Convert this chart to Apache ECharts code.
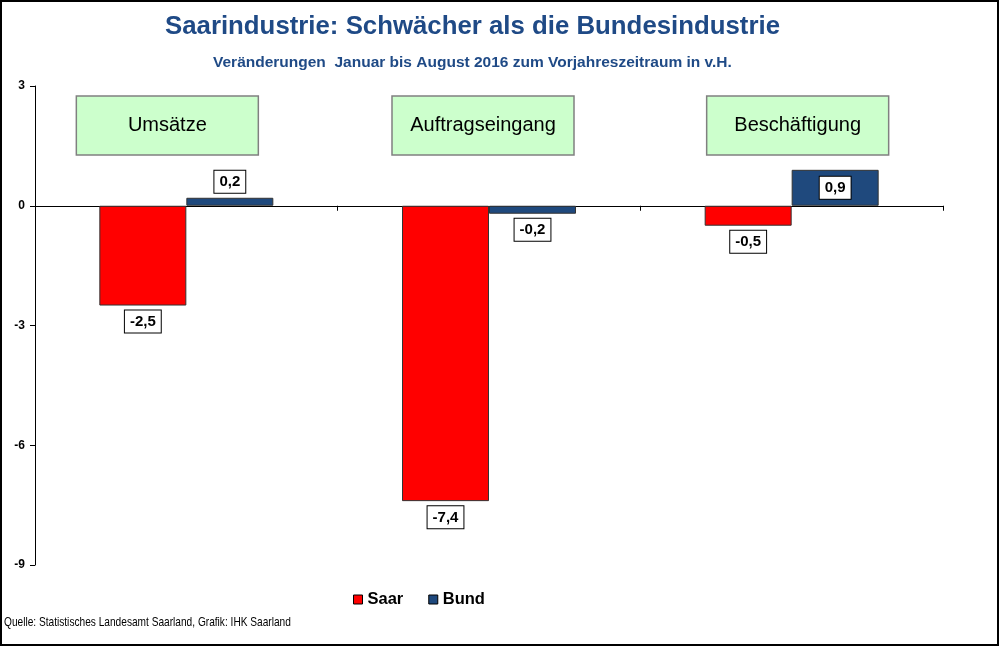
<!DOCTYPE html>
<html>
<head>
<meta charset="utf-8">
<script src="https://cdn.jsdelivr.net/npm/echarts@6/dist/echarts.min.js"></script>
<style>
  html, body { margin: 0; padding: 0; background: #fff; }
  #chart { width: 1000px; height: 647px; }
</style>
</head>
<body>
<div id="chart"></div>
<script>
"use strict";

var categories = ['Umsätze', 'Auftragseingang', 'Beschäftigung'];
var saarValues = [-2.5, -7.4, -0.5];
var bundValues = [0.2, -0.2, 0.9];
var seriesNames = ['Saar', 'Bund'];

// the green category boxes sit a little off the category centre
var boxShift = [-19, -6, 6];

var FONT = '"Liberation Sans", Arial, sans-serif';
var chart = echarts.init(document.getElementById('chart'));

function fmt(p) {
  return p.value.toFixed(1).replace('.', ',');
}

var labelBox = {
  show: true,
  formatter: fmt,
  fontFamily: FONT,
  fontWeight: 'bold',
  fontSize: 15,
  color: '#000',
  backgroundColor: '#fff',
  borderColor: '#000',
  borderWidth: 1,
  padding: [4, 5, 3, 5],
  distance: 5
};

function barData(values, insideIdx) {
  return values.map(function (v, i) {
    var pos = v >= 0 ? 'top' : 'bottom';
    if (i === insideIdx) pos = 'inside';
    return { value: v, label: { position: pos } };
  });
}

var option = {
  backgroundColor: '#fff',
  animation: false,
  title: [{
    text: 'Saarindustrie: Schwächer als die Bundesindustrie',
    left: 160,
    top: 9,
    textStyle: { fontFamily: FONT, fontSize: 25.8, fontWeight: 'bold', color: '#1F4A86' }
  }, {
    text: 'Veränderungen  Januar bis August 2016 zum Vorjahreszeitraum in v.H.',
    left: 208,
    top: 50,
    textStyle: { fontFamily: FONT, fontSize: 15.5, fontWeight: 'bold', color: '#1F4A86' }
  }],
  legend: {
    data: seriesNames,
    left: 353,
    top: 591,
    padding: 0,
    icon: 'rect',
    itemWidth: 9,
    itemHeight: 9,
    itemGap: 25,
    itemStyle: { borderColor: '#000', borderWidth: 1 },
    textStyle: { fontFamily: FONT, fontSize: 16.5, fontWeight: 'bold', color: '#000' }
  },
  grid: { left: 35, right: 57, top: 86, bottom: 82 },
  xAxis: {
    type: 'category',
    data: categories,
    axisLine: { onZero: true, lineStyle: { color: '#000', width: 1 } },
    axisTick: { show: true, length: 5, lineStyle: { color: '#000' } },
    axisLabel: { show: false },
    splitLine: { show: false }
  },
  yAxis: {
    type: 'value',
    min: -9,
    max: 3,
    interval: 3,
    axisLine: { show: true, lineStyle: { color: '#000', width: 1 } },
    axisTick: { show: true, length: 5, lineStyle: { color: '#000' } },
    axisLabel: { fontFamily: FONT, fontSize: 12, fontWeight: 'bold', color: '#000', margin: 10 },
    splitLine: { show: false }
  },
  series: [{
    name: seriesNames[0],
    type: 'bar',
    data: barData(saarValues, -1),
    barWidth: 87,
    barGap: '0%',
    itemStyle: { color: '#FF0000', borderColor: '#333', borderWidth: 1 },
    label: labelBox
  }, {
    name: seriesNames[1],
    type: 'bar',
    data: barData(bundValues, 2),
    barWidth: 87,
    barGap: '0%',
    itemStyle: { color: '#1F497D', borderColor: '#333', borderWidth: 1 },
    label: labelBox
  }]
};

chart.setOption(option);

var graphics = [{
  type: 'rect',
  shape: { x: 1, y: 1, width: 997, height: 644 },
  style: { fill: 'none', stroke: '#000', lineWidth: 2 },
  silent: true
}, {
  // source line, squeezed to look like a narrow font
  type: 'text',
  x: 4,
  y: 616,
  scaleX: 0.78,
  style: {
    text: 'Quelle: Statistisches Landesamt Saarland, Grafik: IHK Saarland',
    fontFamily: FONT,
    fontSize: 13,
    fill: '#000'
  }
}];

// green boxes above each category, placed through the category scale
categories.forEach(function (c, i) {
  var cx = chart.convertToPixel({ xAxisIndex: 0 }, c) + boxShift[i];
  var cy = chart.convertToPixel({ yAxisIndex: 0 }, 3) + 39;
  graphics.push({
    type: 'rect',
    shape: { x: cx - 91, y: cy - 29, width: 182, height: 59 },
    style: { fill: '#CCFFCC', stroke: '#808080', lineWidth: 1.5 }
  });
  graphics.push({
    type: 'text',
    x: cx,
    y: cy,
    style: {
      text: c,
      fontFamily: FONT,
      fontSize: 20,
      fill: '#000',
      align: 'center',
      verticalAlign: 'middle'
    }
  });
});
chart.setOption({ graphic: graphics });
</script>
</body>
</html>
